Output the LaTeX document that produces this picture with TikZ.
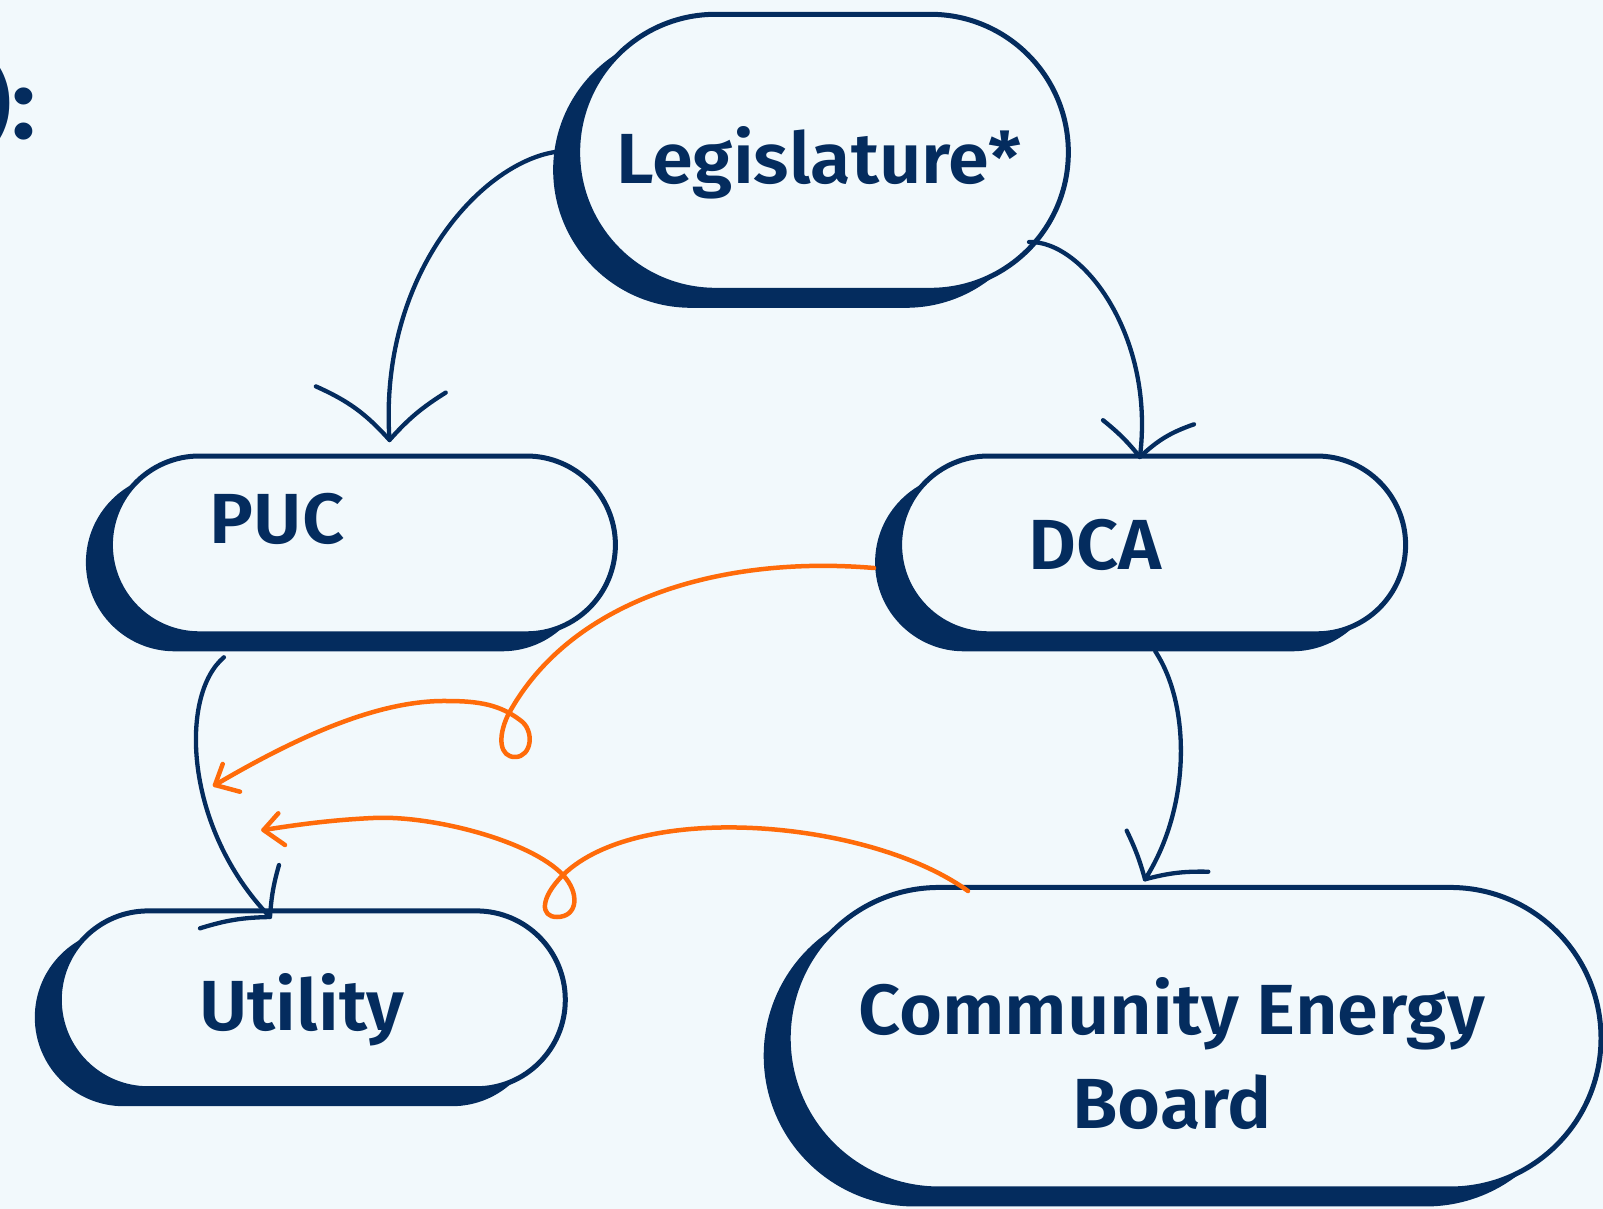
\documentclass[tikz,border=0pt]{standalone}
\usepackage{fontspec}
\setmainfont{Fira Sans}[BoldFont={Fira Sans SemiBold}, BoldFeatures={FakeStretch=1.04}]
\usetikzlibrary{shapes.misc,shadows}
\definecolor{navy}{RGB}{4,44,94}
\definecolor{orng}{RGB}{255,107,10}
\definecolor{bgc}{RGB}{242,249,252}
\begin{document}
\begin{tikzpicture}[x=1pt,y=-1pt,
  pill/.style={rounded rectangle, draw=navy, line width=5pt, fill=bgc, inner sep=0pt, outer sep=0pt,
    drop shadow={shadow xshift=-24.5pt, shadow yshift=-17.5pt, fill=navy, opacity=1}},
  lbl/.style={anchor=base, inner sep=0pt, text=navy, font=\fontsize{71}{80}\selectfont\bfseries},
  conn/.style={draw=navy, line width=4.3pt, line cap=round, line join=round},
  oconn/.style={draw=orng, line width=4.5pt, line cap=round, line join=round}]
\path[use as bounding box, fill=bgc] (0,0) rectangle (1603,1209);

% partial heading text at top-left
\node[anchor=base east, inner sep=0pt, text=navy, font=\fontsize{100}{110}\selectfont\bfseries] (head) at (37,139) {):};

% boxes
\node[pill, minimum width=490.7pt, minimum height=276pt] (leg) at (823,152.3) {};
\node[pill, minimum width=505pt, minimum height=177.8pt] (puc) at (362.9,544.9) {};
\node[pill, minimum width=506pt, minimum height=177.8pt] (dca) at (1152.6,544.9) {};
\node[pill, minimum width=506pt, minimum height=177.8pt] (util) at (312.3,999.8) {};
\node[pill, minimum width=812.8pt, minimum height=301.5pt] (ceb) at (1194.6,1038.2) {};

% labels
\node[lbl] (legT) at (819,184) {Legislature*};
\node[lbl] (pucT) at (277,543.9) {PUC};
\node[lbl] (dcaT) at (1095,569.4) {DCA};
\node[lbl] (utilT) at (302,1030.5) {Utility};
\node[lbl] (cebT1) at (1171.5,1034.6) {Community Energy};
\node[lbl] (cebT2) at (1172,1128.6) {Board};

% connector end points
\coordinate (a1s) at (555,152);
\coordinate (a1t) at (389.5,440);
\coordinate (a1l) at (315.9,386.4);
\coordinate (a1r) at (445.7,392.6);

\coordinate (a2s) at (1029,242);
\coordinate (a2t) at (1139.9,457);
\coordinate (a2l) at (1103,420.2);
\coordinate (a2r) at (1194,424.3);

\coordinate (a3s) at (223.9,657.3);
\coordinate (a3t) at (270,917);
\coordinate (a3l) at (200,928.3);
\coordinate (a3r) at (279,865);

\coordinate (a4s) at (1155.2,651.2);
\coordinate (a4t) at (1145,879.3);
\coordinate (a4l) at (1126.7,830.7);
\coordinate (a4r) at (1208.3,871.7);

\coordinate (o1s) at (874,568);
\coordinate (o1t) at (215,785);
\coordinate (o1a) at (222.7,764);
\coordinate (o1b) at (240,791.7);

\coordinate (o2s) at (968,891);
\coordinate (o2t) at (263.5,830);
\coordinate (o2a) at (278.3,813.3);
\coordinate (o2b) at (285,845);

% navy connectors
\draw[conn] (a1s) .. controls (480.5,163.6) and (378.3,276) .. (a1t);
\draw[conn] (a1l) to[bend left=12] (a1t) to[bend left=8] (a1r);

\draw[conn] (a2s) .. controls (1083.6,240.2) and (1155.2,337.4) .. (a2t);
\draw[conn] (a2l) to[bend left=6] (a2t) to[bend left=12] (a2r);

\draw[conn] (a3s) .. controls (178.9,695.2) and (184,828.1) .. (a3t);
\draw[conn] (a3l) to[bend left=8] (a3t) to[bend left=6] (a3r);

\draw[conn] (a4s) .. controls (1191,705.4) and (1191,807.6) .. (a4t);
\draw[conn] (a4l) to[bend left=5] (a4t) to[bend left=8] (a4r);

% orange connectors with loops
\draw[oconn] (o1s) .. controls (720,555) and (570,600) .. (508,715)
  .. controls (497,738) and (500,757) .. (515,757)
  .. controls (532,757) and (535,730) .. (520,720)
  .. controls (500,705) and (480,701) .. (447,701)
  .. controls (380,700) and (300,735) .. (o1t);
\draw[oconn] (o1a) -- (o1t) -- (o1b);

\draw[oconn] (o2s) .. controls (870,820) and (640,800) .. (563,875)
  .. controls (540,898) and (540,917) .. (557,917)
  .. controls (578,917) and (580,893) .. (563,875)
  .. controls (530,840) and (430,815) .. (373,818)
  .. controls (330,820) and (295,825) .. (o2t);
\draw[oconn] (o2a) -- (o2t) -- (o2b);
\end{tikzpicture}
\end{document}
